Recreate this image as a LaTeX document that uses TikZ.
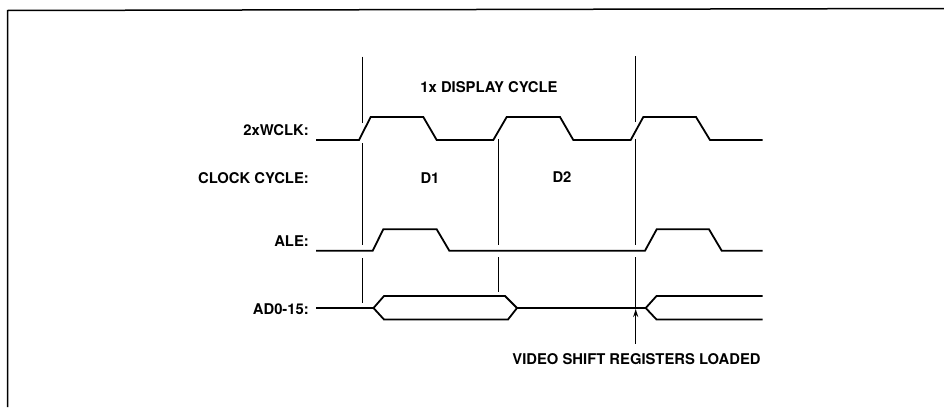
\documentclass[tikz,border=0pt]{standalone}
\usepackage{fontspec}
\setmainfont{TeX Gyre Heros}
\usetikzlibrary{arrows.meta}
\begin{document}
\begin{tikzpicture}[x=1pt,y=-1pt,
  sig/.style={line width=1.8pt,line join=miter},
  marker/.style={line width=1.3pt},
  lbl/.style={font=\bfseries\fontsize{14.8}{17}\selectfont,inner sep=0pt},
  frame/.style={line width=1.5pt}]
\useasboundingbox (0,0) rectangle (944,407);
% frame (top and left edges only)
\draw[frame] (7.5,407) -- (7.5,10.5) -- (944,8.5);
% labels
\node[lbl,anchor=east] (lclk) at (309,130) {2xWCLK:};
\node[lbl,anchor=east] (lcyc) at (309,178) {CLOCK CYCLE:};
\node[lbl,anchor=east] (lale) at (309,241) {ALE:};
\node[lbl,anchor=east] (lad) at (309,309) {AD0-15:};
\node[lbl] (disp) at (489,87) {1x DISPLAY CYCLE};
\node[lbl] (d1) at (430,178) {D1};
\node[lbl] (d2) at (562,177) {D2};
\node[lbl] (vsr) at (636.5,359.5) {VIDEO SHIFT REGISTERS LOADED};
% 2xWCLK
\draw[sig] (316,140) -- (359,140) -- (370.7,117) -- (423.3,117) -- (436.7,140)
  -- (493.3,140) -- (506.7,117) -- (560,117) -- (573.3,140)
  -- (630.7,140) -- (643.3,117) -- (696,117) -- (710,140) -- (762.7,140);
% ALE
\draw[sig] (316,250.7) -- (372.7,250.7) -- (383.3,229.3) -- (436.7,229.3) -- (449.3,250.7)
  -- (645,250.7) -- (656.7,229.3) -- (709,229.3) -- (721.7,250.7) -- (762.7,250.7);
% AD0-15
\draw[sig] (316,308) -- (373.5,308) -- (384,296) -- (505,296) -- (517,308)
  -- (645.7,308) -- (656.5,296) -- (762.7,296);
\draw[sig] (373.5,308) -- (384,319.5) -- (508,319.5) -- (517,308);
\draw[sig] (645.7,308) -- (656.5,319.5) -- (762.7,319.5);
% cycle markers
\draw[marker] (362.7,56.7) -- (362.7,122.7);
\draw[marker] (362.7,143) -- (362.7,245);
\draw[marker] (362.7,258) -- (362.7,302.7);
\draw[marker] (498.5,139) -- (498.5,245);
\draw[marker] (498.5,257) -- (498.5,291.7);
\draw[marker] (635.7,56) -- (635.7,121.7);
\draw[marker] (635.7,139) -- (635.7,245);
\draw[marker] (635.7,257) -- (635.7,307);
% arrow
\coordinate (abase) at (635.7,343.5);
\coordinate (atip) at (635.7,309);
\draw[marker,-{Stealth[length=8pt,width=5pt]}] (abase) -- (atip);
\end{tikzpicture}
\end{document}
